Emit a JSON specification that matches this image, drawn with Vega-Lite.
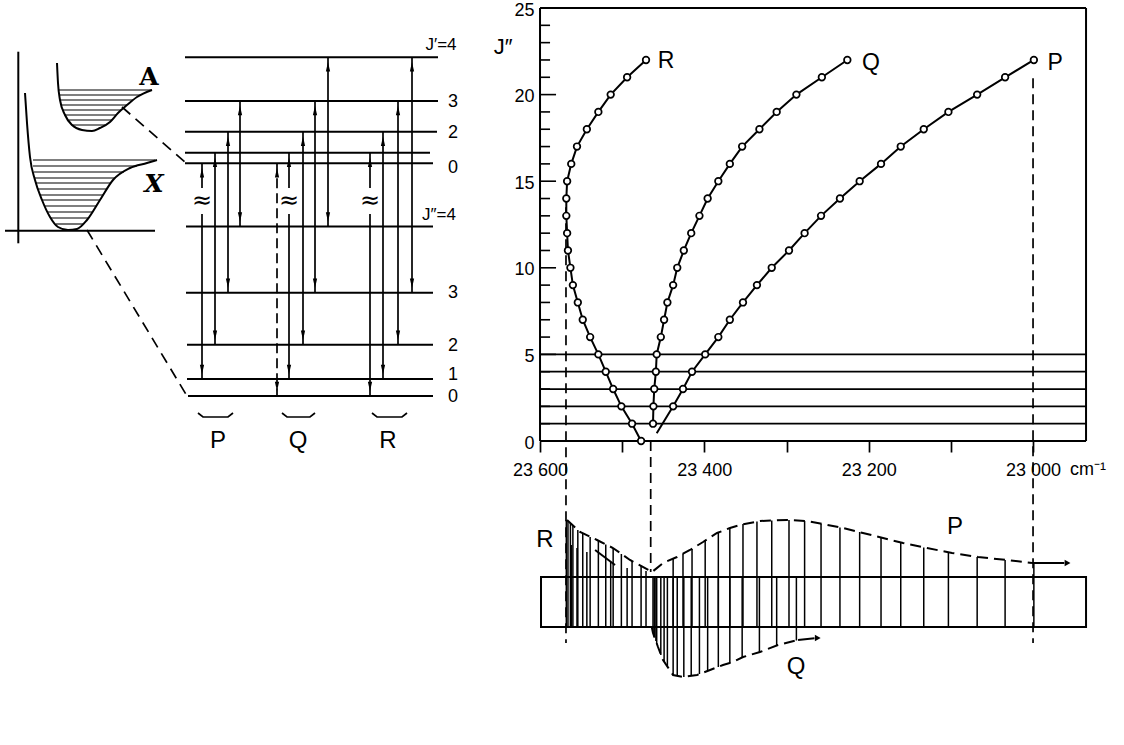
{
  "$schema": "https://vega.github.io/schema/vega-lite/v6.json",
  "width": 1124,
  "height": 745,
  "autosize": {"type": "fit", "contains": "padding"},
  "padding": 0,
  "background": "white",
  "config": {"view": {"stroke": null}, "font": "Liberation Sans", "text": {"font": "Liberation Sans", "color": "black"}},
  "datasets": {
    "levels": [
      {"u": 18.5, "u2": 43.8, "v": 68.77}, {"u": 18.5, "u2": 43.8, "v": 64.4}, {"u": 18.5, "u2": 43.7, "v": 61.33},
      {"u": 18.5, "u2": 43.0, "v": 59.23}, {"u": 18.5, "u2": 43.3, "v": 58.17}, {"u": 18.6, "u2": 43.3, "v": 51.85},
      {"u": 18.6, "u2": 43.3, "v": 45.23}, {"u": 18.7, "u2": 43.3, "v": 40.03}, {"u": 18.7, "u2": 43.3, "v": 36.6},
      {"u": 18.8, "u2": 43.3, "v": 34.9}
    ],
    "vib": [
      {"u": 3.3, "u2": 15.5, "v": 58.5}, {"u": 3.3, "u2": 13.7, "v": 57.9}, {"u": 3.4, "u2": 12.4, "v": 57.3},
      {"u": 3.5, "u2": 11.5, "v": 56.7}, {"u": 3.6, "u2": 11.1, "v": 56.2}, {"u": 3.8, "u2": 10.7, "v": 55.6},
      {"u": 4.0, "u2": 10.3, "v": 55.0}, {"u": 4.2, "u2": 10.0, "v": 54.5}, {"u": 4.5, "u2": 9.6, "v": 53.9},
      {"u": 4.8, "u2": 9.2, "v": 53.3}, {"u": 5.1, "u2": 8.8, "v": 52.7}, {"u": 5.6, "u2": 8.3, "v": 52.1},
      {"u": 5.9, "u2": 15.2, "v": 65.5}, {"u": 5.9, "u2": 14.1, "v": 65.0}, {"u": 6.0, "u2": 13.3, "v": 64.5},
      {"u": 6.2, "u2": 12.7, "v": 64.0}, {"u": 6.3, "u2": 12.1, "v": 63.5}, {"u": 6.5, "u2": 11.6, "v": 63.0},
      {"u": 6.9, "u2": 11.2, "v": 62.5}, {"u": 7.2, "u2": 10.5, "v": 62.0}
    ],
    "paxes": [
      {"u": 1.83, "u2": 1.83, "v": 69.33, "v2": 50.17},
      {"u": 0.5, "u2": 15.5, "v": 51.43, "v2": 51.43}
    ],
    "pot": [
      {"c": "X", "k": 0, "u": 2.5, "v": 65.2}, {"c": "X", "k": 1, "u": 2.7, "v": 62.2}, {"c": "X", "k": 2, "u": 3.0, "v": 58.8},
      {"c": "X", "k": 3, "u": 3.5, "v": 56.5}, {"c": "X", "k": 4, "u": 4.2, "v": 54.5}, {"c": "X", "k": 5, "u": 5.0, "v": 52.8},
      {"c": "X", "k": 6, "u": 5.8, "v": 51.8}, {"c": "X", "k": 7, "u": 6.8, "v": 51.5}, {"c": "X", "k": 8, "u": 7.7, "v": 51.6},
      {"c": "X", "k": 9, "u": 8.7, "v": 52.5}, {"c": "X", "k": 10, "u": 10.0, "v": 54.5}, {"c": "X", "k": 11, "u": 11.3, "v": 56.5},
      {"c": "X", "k": 12, "u": 13.0, "v": 57.7}, {"c": "X", "k": 13, "u": 14.7, "v": 58.2}, {"c": "X", "k": 14, "u": 15.7, "v": 58.5},
      {"c": "A", "k": 0, "u": 5.7, "v": 68.2}, {"c": "A", "k": 1, "u": 5.8, "v": 66.2}, {"c": "A", "k": 2, "u": 6.0, "v": 64.5},
      {"c": "A", "k": 3, "u": 6.5, "v": 63.0}, {"c": "A", "k": 4, "u": 7.2, "v": 62.0}, {"c": "A", "k": 5, "u": 8.2, "v": 61.5},
      {"c": "A", "k": 6, "u": 9.2, "v": 61.4}, {"c": "A", "k": 7, "u": 10.0, "v": 61.7}, {"c": "A", "k": 8, "u": 11.0, "v": 62.3},
      {"c": "A", "k": 9, "u": 11.8, "v": 63.2}, {"c": "A", "k": 10, "u": 12.7, "v": 64.0}, {"c": "A", "k": 11, "u": 13.7, "v": 64.8},
      {"c": "A", "k": 12, "u": 15.2, "v": 65.5}
    ],
    "trans": [
      {"u": 20.2, "v": 58.17, "v2": 55.7}, {"u": 20.2, "v": 53.1, "v2": 36.6}, {"u": 21.5, "v": 59.23, "v2": 40.03},
      {"u": 22.8, "v": 61.33, "v2": 45.23}, {"u": 24.0, "v": 64.4, "v2": 51.85},
      {"u": 28.9, "v": 59.23, "v2": 55.7}, {"u": 28.9, "v": 53.1, "v2": 36.6}, {"u": 30.3, "v": 61.33, "v2": 40.03},
      {"u": 31.5, "v": 64.4, "v2": 45.23}, {"u": 32.8, "v": 68.77, "v2": 51.85},
      {"u": 37.0, "v": 59.23, "v2": 55.7}, {"u": 37.0, "v": 53.1, "v2": 34.9}, {"u": 38.3, "v": 61.33, "v2": 36.6},
      {"u": 39.8, "v": 64.4, "v2": 40.03}, {"u": 41.2, "v": 68.77, "v2": 45.23}
    ],
    "transd": [{"u": 27.7, "v": 58.17, "v2": 34.9}],
    "arrows": [
      {"u": 20.2, "v": 57.22, "d": "up"}, {"u": 20.2, "v": 37.55, "d": "down"},
      {"u": 21.5, "v": 58.28, "d": "up"}, {"u": 21.5, "v": 40.98, "d": "down"},
      {"u": 22.8, "v": 60.38, "d": "up"}, {"u": 22.8, "v": 46.18, "d": "down"},
      {"u": 24.0, "v": 63.45, "d": "up"}, {"u": 24.0, "v": 52.8, "d": "down"},
      {"u": 27.7, "v": 57.22, "d": "up"}, {"u": 27.7, "v": 35.85, "d": "down"},
      {"u": 28.9, "v": 58.28, "d": "up"}, {"u": 28.9, "v": 37.55, "d": "down"},
      {"u": 30.3, "v": 60.38, "d": "up"}, {"u": 30.3, "v": 40.98, "d": "down"},
      {"u": 31.5, "v": 63.45, "d": "up"}, {"u": 31.5, "v": 46.18, "d": "down"},
      {"u": 32.8, "v": 67.82, "d": "up"}, {"u": 32.8, "v": 52.8, "d": "down"},
      {"u": 37.0, "v": 58.28, "d": "up"}, {"u": 37.0, "v": 35.85, "d": "down"},
      {"u": 38.3, "v": 60.38, "d": "up"}, {"u": 38.3, "v": 37.55, "d": "down"},
      {"u": 39.8, "v": 63.45, "d": "up"}, {"u": 39.8, "v": 40.98, "d": "down"},
      {"u": 41.2, "v": 67.82, "d": "up"}, {"u": 41.2, "v": 46.18, "d": "down"}
    ],
    "conn": [
      {"u": 12.2, "v": 63.8, "u2": 18.6, "v2": 58.2},
      {"u": 8.7, "v": 51.5, "u2": 18.7, "v2": 34.9}
    ],
    "braces": [
      {"g": "P", "k": 0, "u": 19.8, "v": 33.2}, {"g": "P", "k": 1, "u": 20.3, "v": 32.8}, {"g": "P", "k": 2, "u": 22.8, "v": 32.8}, {"g": "P", "k": 3, "u": 23.3, "v": 33.2},
      {"g": "Q", "k": 0, "u": 28.2, "v": 33.2}, {"g": "Q", "k": 1, "u": 28.7, "v": 32.8}, {"g": "Q", "k": 2, "u": 31.0, "v": 32.8}, {"g": "Q", "k": 3, "u": 31.5, "v": 33.2},
      {"g": "R", "k": 0, "u": 37.2, "v": 33.2}, {"g": "R", "k": 1, "u": 37.7, "v": 32.8}, {"g": "R", "k": 2, "u": 40.2, "v": 32.8}, {"g": "R", "k": 3, "u": 40.7, "v": 33.2}
    ],
    "breaks": [
      {"u": 20.2, "v": 54.4, "t": "≈"}, {"u": 28.9, "v": 54.4, "t": "≈"}, {"u": 37.0, "v": 54.4, "t": "≈"}
    ],
    "slab": [
      {"u": 45.3, "v": 64.3, "t": "3"}, {"u": 45.3, "v": 61.2, "t": "2"}, {"u": 45.3, "v": 57.7, "t": "0"},
      {"u": 45.3, "v": 45.2, "t": "3"}, {"u": 45.3, "v": 39.9, "t": "2"}, {"u": 45.3, "v": 37.0, "t": "1"},
      {"u": 45.3, "v": 34.8, "t": "0"}
    ],
    "slabsmall": [
      {"u": 44.1, "v": 70.0, "t": "J′=4"}, {"u": 43.9, "v": 53.0, "t": "J″=4"}
    ],
    "pqr": [
      {"u": 21.8, "v": 30.4, "t": "P"}, {"u": 29.8, "v": 30.4, "t": "Q"}, {"u": 38.8, "v": 30.4, "t": "R"}
    ],
    "alab": [{"u": 14.9, "v": 66.8, "t": "A"}],
    "xlab": [{"u": 15.4, "v": 56.1, "t": "X"}],
    "hlines": [
      {"J": 0, "nu": 23600, "nu2": 22935.5}, {"J": 1, "nu": 23600, "nu2": 22935.5}, {"J": 2, "nu": 23600, "nu2": 22935.5},
      {"J": 3, "nu": 23600, "nu2": 22935.5}, {"J": 4, "nu": 23600, "nu2": 22935.5}, {"J": 5, "nu": 23600, "nu2": 22935.5},
      {"J": 25, "nu": 23600, "nu2": 22935.5}
    ],
    "vlines": [
      {"nu": 23600, "J": 0, "J2": 25}, {"nu": 22935.5, "J": 0, "J2": 25}
    ],
    "yminor": [
      {"J": 1, "nu": 23600}, {"J": 2, "nu": 23600}, {"J": 3, "nu": 23600}, {"J": 4, "nu": 23600},
      {"J": 6, "nu": 23600}, {"J": 7, "nu": 23600}, {"J": 8, "nu": 23600}, {"J": 9, "nu": 23600},
      {"J": 11, "nu": 23600}, {"J": 12, "nu": 23600}, {"J": 13, "nu": 23600}, {"J": 14, "nu": 23600},
      {"J": 16, "nu": 23600}, {"J": 17, "nu": 23600}, {"J": 18, "nu": 23600}, {"J": 19, "nu": 23600},
      {"J": 21, "nu": 23600}, {"J": 22, "nu": 23600}, {"J": 23, "nu": 23600}, {"J": 24, "nu": 23600}
    ],
    "ymajor": [
      {"J": 5, "nu": 23600}, {"J": 10, "nu": 23600}, {"J": 15, "nu": 23600}, {"J": 20, "nu": 23600}
    ],
    "drops": [
      {"nu": 23568.4, "J": 13.5, "J2": -11.66},
      {"nu": 23465.3, "J": 0, "J2": -7.56},
      {"nu": 23000, "J": 20.95, "J2": -11.66}
    ],
    "fortrat": [
      {"branch": "R", "J": 0, "nu": 23477, "m": 1}, {"branch": "R", "J": 1, "nu": 23488, "m": 1}, {"branch": "R", "J": 2, "nu": 23501, "m": 1},
      {"branch": "R", "J": 3, "nu": 23511, "m": 1}, {"branch": "R", "J": 4, "nu": 23520, "m": 1}, {"branch": "R", "J": 5, "nu": 23529, "m": 1},
      {"branch": "R", "J": 6, "nu": 23539, "m": 1}, {"branch": "R", "J": 7, "nu": 23548, "m": 1}, {"branch": "R", "J": 8, "nu": 23554, "m": 1},
      {"branch": "R", "J": 9, "nu": 23560, "m": 1}, {"branch": "R", "J": 10, "nu": 23563, "m": 1}, {"branch": "R", "J": 11, "nu": 23566, "m": 1},
      {"branch": "R", "J": 12, "nu": 23567, "m": 1}, {"branch": "R", "J": 13, "nu": 23568, "m": 1}, {"branch": "R", "J": 14, "nu": 23568, "m": 1},
      {"branch": "R", "J": 15, "nu": 23567, "m": 1}, {"branch": "R", "J": 16, "nu": 23562, "m": 1}, {"branch": "R", "J": 17, "nu": 23555, "m": 1},
      {"branch": "R", "J": 18, "nu": 23543, "m": 1}, {"branch": "R", "J": 19, "nu": 23529, "m": 1}, {"branch": "R", "J": 20, "nu": 23514, "m": 1},
      {"branch": "R", "J": 21, "nu": 23494, "m": 1}, {"branch": "R", "J": 22, "nu": 23471, "m": 1},
      {"branch": "Q", "J": 1, "nu": 23462.5, "m": 1}, {"branch": "Q", "J": 2, "nu": 23462, "m": 1}, {"branch": "Q", "J": 3, "nu": 23461, "m": 1},
      {"branch": "Q", "J": 4, "nu": 23459, "m": 1}, {"branch": "Q", "J": 5, "nu": 23458, "m": 1}, {"branch": "Q", "J": 6, "nu": 23453, "m": 1},
      {"branch": "Q", "J": 7, "nu": 23449, "m": 1}, {"branch": "Q", "J": 8, "nu": 23445, "m": 1}, {"branch": "Q", "J": 9, "nu": 23438, "m": 1},
      {"branch": "Q", "J": 10, "nu": 23433, "m": 1}, {"branch": "Q", "J": 11, "nu": 23425, "m": 1}, {"branch": "Q", "J": 12, "nu": 23416, "m": 1},
      {"branch": "Q", "J": 13, "nu": 23406, "m": 1}, {"branch": "Q", "J": 14, "nu": 23396, "m": 1}, {"branch": "Q", "J": 15, "nu": 23383, "m": 1},
      {"branch": "Q", "J": 16, "nu": 23369, "m": 1}, {"branch": "Q", "J": 17, "nu": 23354, "m": 1}, {"branch": "Q", "J": 18, "nu": 23333, "m": 1},
      {"branch": "Q", "J": 19, "nu": 23312, "m": 1}, {"branch": "Q", "J": 20, "nu": 23288, "m": 1}, {"branch": "Q", "J": 21, "nu": 23257, "m": 1},
      {"branch": "Q", "J": 22, "nu": 23226, "m": 1},
      {"branch": "P", "J": 0.45, "nu": 23458, "m": 0}, {"branch": "P", "J": 2, "nu": 23438, "m": 1}, {"branch": "P", "J": 3, "nu": 23426, "m": 1},
      {"branch": "P", "J": 4, "nu": 23415, "m": 1}, {"branch": "P", "J": 5, "nu": 23399, "m": 1}, {"branch": "P", "J": 6, "nu": 23383, "m": 1},
      {"branch": "P", "J": 7, "nu": 23369, "m": 1}, {"branch": "P", "J": 8, "nu": 23353, "m": 1}, {"branch": "P", "J": 9, "nu": 23336, "m": 1},
      {"branch": "P", "J": 10, "nu": 23318, "m": 1}, {"branch": "P", "J": 11, "nu": 23297, "m": 1}, {"branch": "P", "J": 12, "nu": 23278, "m": 1},
      {"branch": "P", "J": 13, "nu": 23258, "m": 1}, {"branch": "P", "J": 14, "nu": 23235, "m": 1}, {"branch": "P", "J": 15, "nu": 23211, "m": 1},
      {"branch": "P", "J": 16, "nu": 23185, "m": 1}, {"branch": "P", "J": 17, "nu": 23161, "m": 1}, {"branch": "P", "J": 18, "nu": 23133, "m": 1},
      {"branch": "P", "J": 19, "nu": 23103, "m": 1}, {"branch": "P", "J": 20, "nu": 23068, "m": 1}, {"branch": "P", "J": 21, "nu": 23034, "m": 1},
      {"branch": "P", "J": 22, "nu": 22999, "m": 1}
    ],
    "flabels": [
      {"nu": 23446.7, "J": 21.94, "t": "R"}, {"nu": 23197.2, "J": 21.82, "t": "Q"}, {"nu": 22973.2, "J": 21.8, "t": "P"}
    ],
    "ftitle": [{"nu": 23645, "J": 22.75, "t": "J″"}],
    "funit": [{"nu": 22955, "J": -1.155, "t": "cm⁻¹"}],
    "box": [{"nu": 23598.8, "nu2": 22935.5, "I": 0, "I2": 5}],
    "slines": [
      {"nu": 23477, "I": 0, "I2": 6.1}, {"nu": 23488, "I": 0, "I2": 6.6}, {"nu": 23501, "I": 0, "I2": 7.3},
      {"nu": 23511, "I": 0, "I2": 7.9}, {"nu": 23520, "I": 0, "I2": 8.25}, {"nu": 23529, "I": 0, "I2": 8.65},
      {"nu": 23539, "I": 0, "I2": 9.0}, {"nu": 23548, "I": 0, "I2": 9.35}, {"nu": 23554, "I": 0, "I2": 9.7},
      {"nu": 23560, "I": 0, "I2": 10.15}, {"nu": 23563, "I": 0, "I2": 10.4}, {"nu": 23566, "I": 0, "I2": 10.6},
      {"nu": 23568, "I": 0, "I2": 10.7},
      {"nu": 23562, "I": 0, "I2": 8.2}, {"nu": 23555, "I": 0, "I2": 7.9}, {"nu": 23543, "I": 0, "I2": 7.5},
      {"nu": 23514, "I": 0, "I2": 6.5}, {"nu": 23494, "I": 0, "I2": 5.9}, {"nu": 23471, "I": 0, "I2": 5.6},
      {"nu": 23462.5, "I": 5, "I2": -0.6}, {"nu": 23461, "I": 5, "I2": -1.0}, {"nu": 23459, "I": 5, "I2": -1.4},
      {"nu": 23458, "I": 5, "I2": -1.7}, {"nu": 23453, "I": 5, "I2": -2.8}, {"nu": 23449, "I": 5, "I2": -3.45},
      {"nu": 23445, "I": 5, "I2": -3.9}, {"nu": 23438, "I": 5, "I2": -4.8}, {"nu": 23433, "I": 5, "I2": -4.9},
      {"nu": 23425, "I": 5, "I2": -5.0}, {"nu": 23416, "I": 5, "I2": -4.9}, {"nu": 23406, "I": 5, "I2": -4.7},
      {"nu": 23396, "I": 5, "I2": -4.4}, {"nu": 23383, "I": 5, "I2": -4.0}, {"nu": 23369, "I": 5, "I2": -3.6},
      {"nu": 23354, "I": 5, "I2": -3.05}, {"nu": 23333, "I": 5, "I2": -2.5}, {"nu": 23312, "I": 5, "I2": -1.85},
      {"nu": 23288, "I": 5, "I2": -1.35},
      {"nu": 23438, "I": 0, "I2": 6.8}, {"nu": 23426, "I": 0, "I2": 7.3}, {"nu": 23415, "I": 0, "I2": 7.8},
      {"nu": 23399, "I": 0, "I2": 8.6}, {"nu": 23383, "I": 0, "I2": 9.45}, {"nu": 23369, "I": 0, "I2": 9.9},
      {"nu": 23353, "I": 0, "I2": 10.3}, {"nu": 23336, "I": 0, "I2": 10.55}, {"nu": 23318, "I": 0, "I2": 10.65},
      {"nu": 23297, "I": 0, "I2": 10.7}, {"nu": 23278, "I": 0, "I2": 10.6}, {"nu": 23258, "I": 0, "I2": 10.3},
      {"nu": 23235, "I": 0, "I2": 9.95}, {"nu": 23211, "I": 0, "I2": 9.5}, {"nu": 23185, "I": 0, "I2": 8.95},
      {"nu": 23161, "I": 0, "I2": 8.45}, {"nu": 23133, "I": 0, "I2": 7.95}, {"nu": 23103, "I": 0, "I2": 7.5},
      {"nu": 23068, "I": 0, "I2": 7.0}, {"nu": 23034, "I": 0, "I2": 6.7}, {"nu": 22999, "I": 0, "I2": 6.4}
    ],
    "env": [
      {"e": "RP", "k": 0, "nu": 23567.1, "I": 10.7}, {"e": "RP", "k": 1, "nu": 23551.3, "I": 9.5}, {"e": "RP", "k": 2, "nu": 23530.6, "I": 8.7},
      {"e": "RP", "k": 3, "nu": 23511.2, "I": 7.9}, {"e": "RP", "k": 4, "nu": 23490.5, "I": 6.7}, {"e": "RP", "k": 5, "nu": 23463.7, "I": 5.5},
      {"e": "RP", "k": 6, "nu": 23450.3, "I": 6.4}, {"e": "RP", "k": 7, "nu": 23433.3, "I": 7.0}, {"e": "RP", "k": 8, "nu": 23417.5, "I": 7.7},
      {"e": "RP", "k": 9, "nu": 23401.6, "I": 8.5}, {"e": "RP", "k": 10, "nu": 23384.6, "I": 9.4}, {"e": "RP", "k": 11, "nu": 23368.8, "I": 9.9},
      {"e": "RP", "k": 12, "nu": 23356.6, "I": 10.2}, {"e": "RP", "k": 13, "nu": 23332.3, "I": 10.6}, {"e": "RP", "k": 14, "nu": 23299.4, "I": 10.7},
      {"e": "RP", "k": 15, "nu": 23275.1, "I": 10.6}, {"e": "RP", "k": 16, "nu": 23255.6, "I": 10.3}, {"e": "RP", "k": 17, "nu": 23231.3, "I": 9.9},
      {"e": "RP", "k": 18, "nu": 23207.0, "I": 9.4}, {"e": "RP", "k": 19, "nu": 23182.6, "I": 8.9}, {"e": "RP", "k": 20, "nu": 23158.2, "I": 8.4},
      {"e": "RP", "k": 21, "nu": 23129.0, "I": 7.9}, {"e": "RP", "k": 22, "nu": 23098.6, "I": 7.4}, {"e": "RP", "k": 23, "nu": 23067.0, "I": 7.0},
      {"e": "RP", "k": 24, "nu": 23031.7, "I": 6.7}, {"e": "RP", "k": 25, "nu": 23001.3, "I": 6.4},
      {"e": "Q", "k": 0, "nu": 23464, "I": 0}, {"e": "Q", "k": 1, "nu": 23462.5, "I": -0.6}, {"e": "Q", "k": 2, "nu": 23456.4, "I": -2.0},
      {"e": "Q", "k": 3, "nu": 23450.3, "I": -3.3}, {"e": "Q", "k": 4, "nu": 23438.1, "I": -4.8}, {"e": "Q", "k": 5, "nu": 23425.9, "I": -5.0},
      {"e": "Q", "k": 6, "nu": 23408.9, "I": -4.8}, {"e": "Q", "k": 7, "nu": 23393.1, "I": -4.3}, {"e": "Q", "k": 8, "nu": 23377.3, "I": -3.8},
      {"e": "Q", "k": 9, "nu": 23365.1, "I": -3.5}, {"e": "Q", "k": 10, "nu": 23352.9, "I": -3.0}, {"e": "Q", "k": 11, "nu": 23332.3, "I": -2.5},
      {"e": "Q", "k": 12, "nu": 23310.4, "I": -1.8}, {"e": "Q", "k": 13, "nu": 23286.0, "I": -1.3}
    ],
    "sarr": [
      {"nu": 23001.3, "I": 6.4, "nu2": 22962, "I2": 6.4},
      {"nu": 23286, "I": -1.3, "nu2": 23266, "I2": -1.12},
      {"nu": 23533, "I": 7.7, "nu2": 23508.7, "I2": 6.2}
    ],
    "sheads": [{"nu": 22958, "I": 6.4}, {"nu": 23262, "I": -1.1}],
    "slab2": [
      {"nu": 23593.9, "I": 8.7, "t": "R"}, {"nu": 23094.9, "I": 10.0, "t": "P"}, {"nu": 23288.4, "I": -4.0, "t": "Q"}
    ]
  },
  "layer": [
    {
      "encoding": {
        "x": {"field": "u", "type": "quantitative", "scale": {"domain": [0, 112.4], "nice": false, "zero": false}, "axis": null},
        "y": {"field": "v", "type": "quantitative", "scale": {"domain": [0, 74.5], "nice": false, "zero": false}, "axis": null}
      },
      "layer": [
        {"data": {"name": "levels"}, "mark": {"type": "rule", "strokeWidth": 2, "color": "black"}, "encoding": {"x2": {"field": "u2"}}},
        {"data": {"name": "vib"}, "mark": {"type": "rule", "strokeWidth": 1.1, "color": "black"}, "encoding": {"x2": {"field": "u2"}}},
        {"data": {"name": "paxes"}, "mark": {"type": "rule", "strokeWidth": 2, "color": "black"}, "encoding": {"x2": {"field": "u2"}, "y2": {"field": "v2"}}},
        {"data": {"name": "pot"}, "mark": {"type": "line", "strokeWidth": 2, "color": "black", "interpolate": "monotone"}, "encoding": {"detail": {"field": "c"}, "order": {"field": "k"}}},
        {"data": {"name": "trans"}, "mark": {"type": "rule", "strokeWidth": 1.7, "color": "black"}, "encoding": {"y2": {"field": "v2"}}},
        {"data": {"name": "transd"}, "mark": {"type": "rule", "strokeWidth": 1.7, "color": "black", "strokeDash": [10, 5]}, "encoding": {"y2": {"field": "v2"}}},
        {"data": {"name": "arrows"}, "mark": {"type": "point", "filled": true, "color": "black", "opacity": 1, "size": 90, "strokeWidth": 0},
          "encoding": {"shape": {"field": "d", "type": "nominal", "scale": {"domain": ["up", "down"], "range": ["M-0.45,1L0,-1L0.45,1Z", "M-0.45,-1L0,1L0.45,-1Z"]}, "legend": null}}},
        {"data": {"name": "conn"}, "mark": {"type": "rule", "strokeWidth": 1.7, "color": "black", "strokeDash": [11, 7]}, "encoding": {"x2": {"field": "u2"}, "y2": {"field": "v2"}}},
        {"data": {"name": "braces"}, "mark": {"type": "line", "strokeWidth": 1.7, "color": "black"}, "encoding": {"detail": {"field": "g"}, "order": {"field": "k"}}},
        {"data": {"name": "breaks"}, "mark": {"type": "text", "fontSize": 24, "font": "DejaVu Sans", "align": "center", "baseline": "middle"}, "encoding": {"text": {"field": "t"}}},
        {"data": {"name": "slab"}, "mark": {"type": "text", "fontSize": 18, "align": "center", "baseline": "middle"}, "encoding": {"text": {"field": "t"}}},
        {"data": {"name": "slabsmall"}, "mark": {"type": "text", "fontSize": 17, "align": "center", "baseline": "middle"}, "encoding": {"text": {"field": "t"}}},
        {"data": {"name": "pqr"}, "mark": {"type": "text", "fontSize": 24, "align": "center", "baseline": "middle"}, "encoding": {"text": {"field": "t"}}},
        {"data": {"name": "alab"}, "mark": {"type": "text", "fontSize": 25, "font": "DejaVu Serif", "fontWeight": "bold", "align": "center", "baseline": "middle"}, "encoding": {"text": {"field": "t"}}},
        {"data": {"name": "xlab"}, "mark": {"type": "text", "fontSize": 25, "font": "DejaVu Serif", "fontWeight": "bold", "fontStyle": "italic", "align": "center", "baseline": "middle"}, "encoding": {"text": {"field": "t"}}}
      ]
    },
    {
      "encoding": {
        "x": {"field": "nu", "type": "quantitative",
          "scale": {"domain": [22889.3, 24257.2], "reverse": true, "nice": false, "zero": false},
          "axis": {"values": [23600, 23500, 23400, 23300, 23200, 23100, 23000],
            "labelExpr": "datum.value % 200 == 0 ? replace(format(datum.value, ','), ',', ' ') : ''",
            "offset": -304, "domain": false, "grid": false, "title": null,
            "tickSize": 11, "tickWidth": 1.7, "tickColor": "black",
            "labelFontSize": 18, "labelColor": "black", "labelFont": "Liberation Sans",
            "labelPadding": 9, "labelFlush": false, "labelOverlap": false}}
      },
      "layer": [
        {
          "encoding": {
            "y": {"field": "J", "type": "quantitative",
              "scale": {"domain": [-17.552, 25.462], "nice": false, "zero": false},
              "axis": {"values": [0, 5, 10, 15, 20, 25], "offset": -540, "domain": false, "ticks": false, "grid": false, "title": null,
                "labelFontSize": 18, "labelColor": "black", "labelFont": "Liberation Sans", "labelPadding": 6, "labelOffset": 2, "labelFlush": false, "labelOverlap": false}}
          },
          "layer": [
            {"data": {"name": "hlines"}, "mark": {"type": "rule", "strokeWidth": 1.8, "color": "black"}, "encoding": {"x2": {"field": "nu2"}}},
            {"data": {"name": "vlines"}, "mark": {"type": "rule", "strokeWidth": 2, "color": "black"}, "encoding": {"y2": {"field": "J2"}}},
            {"data": {"name": "yminor"}, "mark": {"type": "rule", "strokeWidth": 1.6, "color": "black"}, "encoding": {"x2": {"datum": 23587.8}}},
            {"data": {"name": "ymajor"}, "mark": {"type": "rule", "strokeWidth": 1.6, "color": "black"}, "encoding": {"x2": {"datum": 23580.5}}},
            {"data": {"name": "drops"}, "mark": {"type": "rule", "strokeWidth": 1.7, "color": "black", "strokeDash": [10, 6]}, "encoding": {"y2": {"field": "J2"}}},
            {"data": {"name": "fortrat"}, "mark": {"type": "line", "strokeWidth": 2, "color": "black"}, "encoding": {"detail": {"field": "branch"}, "order": {"field": "J"}}},
            {"data": {"name": "fortrat"}, "transform": [{"filter": "datum.m == 1"}],
              "mark": {"type": "point", "shape": "circle", "filled": true, "fill": "white", "stroke": "black", "strokeWidth": 1.7, "size": 44, "opacity": 1}},
            {"data": {"name": "flabels"}, "mark": {"type": "text", "fontSize": 23, "align": "center", "baseline": "middle"}, "encoding": {"text": {"field": "t"}}},
            {"data": {"name": "ftitle"}, "mark": {"type": "text", "fontSize": 22, "align": "center", "baseline": "middle"}, "encoding": {"text": {"field": "t"}}},
            {"data": {"name": "funit"}, "mark": {"type": "text", "fontSize": 18, "align": "left", "baseline": "top"}, "encoding": {"text": {"field": "t"}}}
          ]
        },
        {
          "encoding": {
            "y": {"field": "I", "type": "quantitative", "scale": {"domain": [-11.8, 62.7], "nice": false, "zero": false}, "axis": null}
          },
          "layer": [
            {"data": {"name": "box"}, "mark": {"type": "rect", "fillOpacity": 0, "stroke": "black", "strokeWidth": 2}, "encoding": {"x2": {"field": "nu2"}, "y2": {"field": "I2"}}},
            {"data": {"name": "slines"}, "mark": {"type": "rule", "strokeWidth": 1.5, "color": "black"}, "encoding": {"y2": {"field": "I2"}}},
            {"data": {"name": "env"}, "mark": {"type": "line", "strokeWidth": 2, "color": "black", "strokeDash": [11, 6]}, "encoding": {"detail": {"field": "e"}, "order": {"field": "k"}}},
            {"data": {"name": "sarr"}, "mark": {"type": "rule", "strokeWidth": 2, "color": "black"}, "encoding": {"x2": {"field": "nu2"}, "y2": {"field": "I2"}}},
            {"data": {"name": "sheads"}, "mark": {"type": "point", "shape": "triangle-right", "filled": true, "color": "black", "opacity": 1, "size": 45}},
            {"data": {"name": "slab2"}, "mark": {"type": "text", "fontSize": 24, "align": "center", "baseline": "middle"}, "encoding": {"text": {"field": "t"}}}
          ]
        }
      ],
      "resolve": {"scale": {"y": "independent"}}
    }
  ],
  "resolve": {"scale": {"x": "independent", "y": "independent"}}
}
